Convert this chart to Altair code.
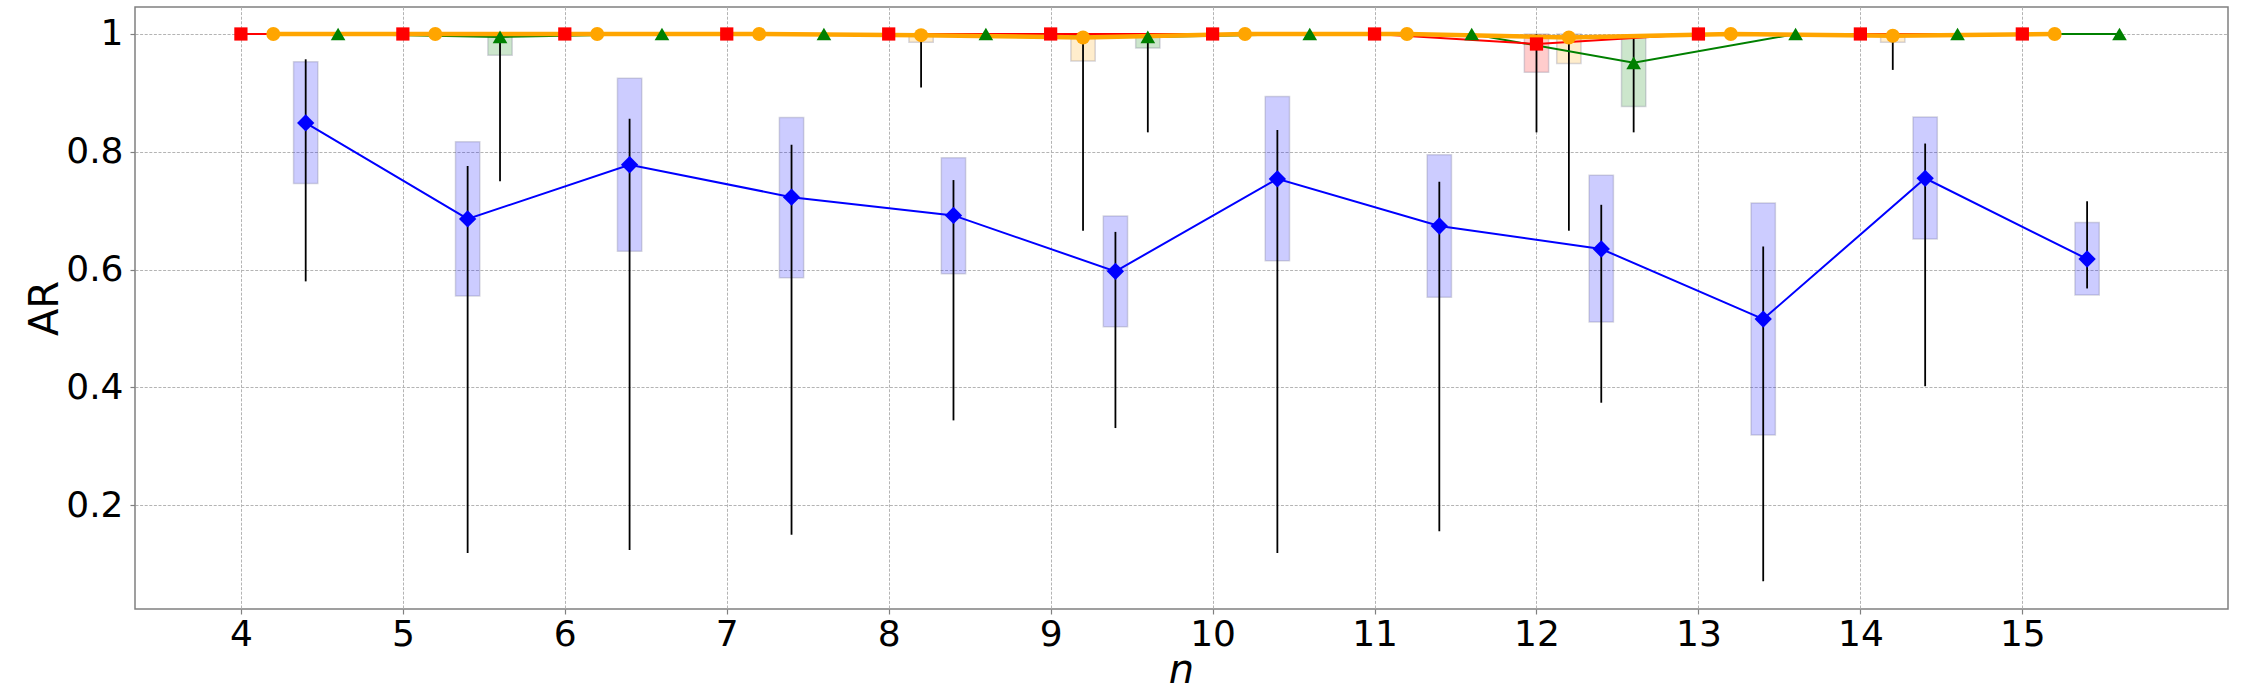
import altair as alt
import pandas as pd

# problem size n on the x axis
n_vals = list(range(4, 16))

# red squares: median, quartiles and whisker ends of AR per n
red_med = [1, 1, 1, 1, 1, 1, 1, 1, 0.983, 1, 1, 1]
red_q1 = [1, 1, 1, 1, 1, 1, 1, 1, 0.935, 1, 1, 1]
red_q3 = [1, 1, 1, 1, 1, 1, 1, 1, 1.0, 1, 1, 1]
red_lo = [1, 1, 1, 1, 1, 1, 1, 1, 0.833, 1, 1, 1]
red_hi = [1, 1, 1, 1, 1, 1, 1, 1, 1.0, 1, 1, 1]

# orange circles
orange_med = [1, 1, 1, 1, 0.998, 0.994, 1, 1, 0.994, 1, 0.997, 1]
orange_q1 = [1, 1, 1, 1, 0.986, 0.954, 1, 1, 0.950, 1, 0.986, 1]
orange_q3 = [1, 1, 1, 1, 1.0, 1.0, 1, 1, 1.0, 1, 1.0, 1]
orange_lo = [1, 1, 1, 1, 0.909, 0.666, 1, 1, 0.666, 1, 0.939, 1]
orange_hi = [1, 1, 1, 1, 1.0, 1.0, 1, 1, 1.0, 1, 1.0, 1]

# blue diamonds
blue_med = [0.849, 0.686, 0.778, 0.723, 0.692, 0.597, 0.754, 0.674, 0.635, 0.516, 0.755, 0.618]
blue_q1 = [0.746, 0.555, 0.631, 0.586, 0.593, 0.503, 0.615, 0.553, 0.511, 0.319, 0.652, 0.557]
blue_q3 = [0.953, 0.817, 0.925, 0.858, 0.790, 0.691, 0.894, 0.795, 0.760, 0.713, 0.859, 0.680]
blue_lo = [0.580, 0.119, 0.124, 0.150, 0.344, 0.331, 0.119, 0.156, 0.374, 0.071, 0.402, 0.568]
blue_hi = [0.957, 0.776, 0.856, 0.812, 0.752, 0.664, 0.837, 0.749, 0.710, 0.639, 0.814, 0.716]

# green triangles
green_med = [1, 0.995, 1, 1, 1, 0.995, 1, 1, 0.951, 1, 1, 1]
green_q1 = [1, 0.964, 1, 1, 1, 0.976, 1, 1, 0.877, 1, 1, 1]
green_q3 = [1, 1.0, 1, 1, 1, 1.0, 1, 1, 0.998, 1, 1, 1]
green_lo = [1, 0.750, 1, 1, 1, 0.833, 1, 1, 0.833, 1, 1, 1]
green_hi = [1, 1.0, 1, 1, 1, 1.0, 1, 1, 1.0, 1, 1, 1]

series = {
    "red": dict(color="#ff0000", offset=0.0, shape="square", size=175, width=2,
                med=red_med, q1=red_q1, q3=red_q3, lo=red_lo, hi=red_hi),
    "orange": dict(color="#ffa500", offset=0.2, shape="circle", size=195, width=4.5,
                   med=orange_med, q1=orange_q1, q3=orange_q3, lo=orange_lo, hi=orange_hi),
    "blue": dict(color="#0000ff", offset=0.4, shape="diamond", size=300, width=2,
                 med=blue_med, q1=blue_q1, q3=blue_q3, lo=blue_lo, hi=blue_hi),
    "green": dict(color="#008000", offset=0.6, shape="triangle-up", size=215, width=2,
                  med=green_med, q1=green_q1, q3=green_q3, lo=green_lo, hi=green_hi),
}

BOX_HALF = 0.075

frames = {}
for name, s in series.items():
    frames[name] = pd.DataFrame({
        "n": n_vals,
        "x": [v + s["offset"] for v in n_vals],
        "xl": [v + s["offset"] - BOX_HALF for v in n_vals],
        "xr": [v + s["offset"] + BOX_HALF for v in n_vals],
        "med": s["med"], "q1": s["q1"], "q3": s["q3"],
        "lo": s["lo"], "hi": s["hi"],
    })

FONT = "DejaVu Sans"

x_scale = alt.Scale(domain=[3.346, 16.27], nice=False, zero=False)
y_scale = alt.Scale(domain=[0.0238, 1.0458], nice=False, zero=False)

x_axis = alt.Axis(
    values=n_vals, title="n", format="d",
    labelFontSize=36, labelFont=FONT, labelColor="black", labelPadding=3,
    labelFlush=False, labelOverlap=False,
    tickSize=5, tickColor="#808080", tickWidth=1.2,
    domain=False,
    grid=True, gridDash=[3, 1.6], gridColor="#b4b4b4", gridWidth=1,
    titleFont=FONT, titleFontSize=40, titleFontStyle="italic", titleFontWeight="normal",
    titleColor="black", titleX=1046, titleY=73, titleBaseline="alphabetic", titleAlign="center",
)
y_axis = alt.Axis(
    values=[0.2, 0.4, 0.6, 0.8, 1.0], format=".1~f", title="AR",
    labelFontSize=36, labelFont=FONT, labelColor="black", labelPadding=7,
    labelFlush=False, labelOverlap=False,
    tickSize=5, tickColor="#808080", tickWidth=1.2,
    domain=False,
    grid=True, gridDash=[3, 1.6], gridColor="#b4b4b4", gridWidth=1,
    titleFont=FONT, titleFontSize=40, titleFontWeight="normal", titleColor="black",
    titleAngle=270, titleX=-78, titleY=301, titleBaseline="alphabetic", titleAlign="center",
)

X = alt.X("x:Q", scale=x_scale, axis=x_axis)

layers = []

# interquartile boxes
for name, s in series.items():
    df = frames[name]
    df = df[df["q3"] > df["q1"]]
    if len(df):
        layers.append(
            alt.Chart(df).mark_rect(
                color=s["color"], fillOpacity=0.2, stroke="#606080",
                strokeOpacity=0.25, strokeWidth=1.5,
            ).encode(
                x=alt.X("xl:Q", scale=x_scale, axis=x_axis),
                x2="xr:Q",
                y=alt.Y("q1:Q", scale=y_scale, axis=y_axis),
                y2="q3:Q",
            )
        )

# whiskers
for name, s in series.items():
    df = frames[name]
    df = df[df["hi"] > df["lo"]]
    if len(df):
        layers.append(
            alt.Chart(df).mark_rule(color="black", strokeWidth=1.8).encode(
                x=X,
                y=alt.Y("lo:Q", scale=y_scale, axis=y_axis),
                y2="hi:Q",
            )
        )

# connecting lines
for name in ["blue", "green", "red", "orange"]:
    s = series[name]
    layers.append(
        alt.Chart(frames[name]).mark_line(color=s["color"], strokeWidth=s["width"]).encode(
            x=X,
            y=alt.Y("med:Q", scale=y_scale, axis=y_axis),
            order="x:Q",
        )
    )

# markers
for name in ["blue", "green", "red", "orange"]:
    s = series[name]
    layers.append(
        alt.Chart(frames[name]).mark_point(
            filled=True, opacity=1, color=s["color"], shape=s["shape"], size=s["size"],
        ).encode(
            x=X,
            y=alt.Y("med:Q", scale=y_scale, axis=y_axis),
        )
    )

chart = alt.layer(*layers).properties(
    width=2093, height=602,
    autosize=alt.AutoSizeParams(type="none"),
    padding={"left": 135, "top": 7, "right": 22, "bottom": 75},
    background="white",
).configure_view(
    stroke="#808080", strokeWidth=1.5,
)

chart.save("out.html", embed_options={"renderer": "svg", "actions": False})
